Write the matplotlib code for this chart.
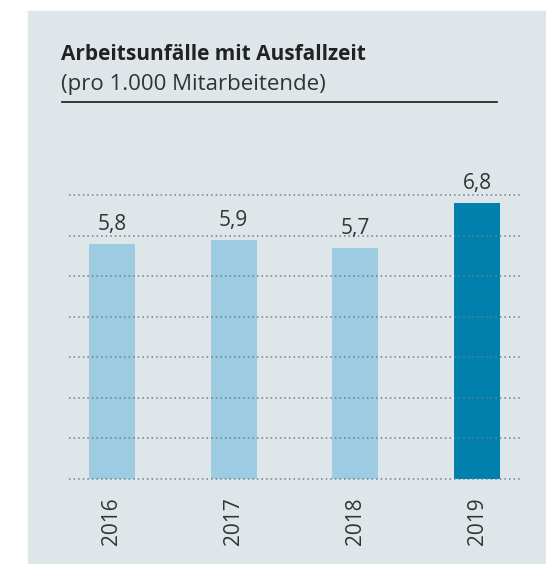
import numpy as np
import matplotlib
matplotlib.use("Agg")
import matplotlib.pyplot as plt
from matplotlib.patches import Rectangle
from matplotlib.lines import Line2D

# Daten
jahre = ["2016", "2017", "2018", "2019"]
werte = [5.8, 5.9, 5.7, 6.8]
farben = ["#9dcbe2", "#9dcbe2", "#9dcbe2", "#0080ad"]
titel = "Arbeitsunfälle mit Ausfallzeit"
untertitel = "(pro 1.000 Mitarbeitende)"

plt.rcParams["font.family"] = ["Open Sans", "DejaVu Sans"]
W, H = 546, 564
fig = plt.figure(figsize=(W / 100, H / 100), dpi=100)
fig.patch.set_facecolor("white")

# grauer Hintergrund
bg = "#dfe6e9"
fig.patches.append(Rectangle((28 / W, 0), 1 - 28 / W, 1 - 11 / H,
                             transform=fig.transFigure, color=bg, zorder=-5))

# Titel
fig.text(61 / W, 1 - 60 / H, titel, fontsize=15, fontweight="bold",
         color="#222222", va="baseline", ha="left")
fig.text(61 / W, 1 - 90 / H, untertitel, fontsize=16,
         color="#333333", va="baseline", ha="left")
fig.lines.append(Line2D([62 / W, 497 / W], [1 - 102 / H, 1 - 102 / H],
                        transform=fig.transFigure, color="#1a1a1a", lw=1.2))

# Achse
ax = fig.add_axes([69 / W, 1 - 479 / H, (520 - 69) / W, (479 - 195) / H])
ax.set_zorder(2)
ax.set_facecolor("none")
x = np.arange(len(jahre))
ax.bar(x, werte, width=0.38, color=farben, zorder=1)
ax.set_xlim(-0.353, len(jahre) - 1 + 0.353)
ax.set_ylim(0, 7)

for y in np.arange(0, 8):
    ax.axhline(y, color="#6b7f8b", lw=1.1, linestyle=(0, (1, 2)),
               zorder=2, clip_on=False)

for xi, v in zip(x, werte):
    ax.annotate(f"{v:.1f}".replace(".", ","), (xi, v), xytext=(0, 10),
                textcoords="offset points", ha="center", va="baseline",
                fontsize=15, color="#333333", annotation_clip=False)

ax.set_xticks(x)
ax.set_xticklabels(jahre, rotation=90, fontsize=15, color="#333333")
ax.tick_params(axis="x", length=0, pad=13)
ax.set_yticks([])
for s in ax.spines.values():
    s.set_visible(False)

fig.savefig("out.png", dpi=100)
